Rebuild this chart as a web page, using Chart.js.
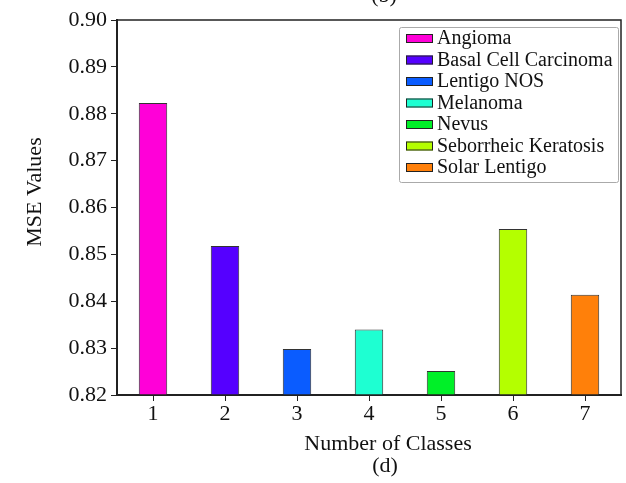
<!DOCTYPE html>
<html>
<head>
<meta charset="utf-8">
<script src="https://cdn.jsdelivr.net/npm/chart.js@4.4.0/dist/chart.umd.min.js"></script>
<style>
  html, body { margin: 0; padding: 0; background: #fff; }
  #wrap { width: 626px; height: 483px; }
</style>
</head>
<body>
<div id="wrap"><canvas id="mseChart" width="626" height="483"></canvas></div>
<script>
// --- Data ---
const classNumbers = ['1', '2', '3', '4', '5', '6', '7'];
const classNames = ['Angioma', 'Basal Cell Carcinoma', 'Lentigo NOS', 'Melanoma', 'Nevus', 'Seborrheic Keratosis', 'Solar Lentigo'];
const mseValues = [0.8823, 0.8518, 0.8298, 0.8340, 0.8251, 0.8554, 0.8414];
const barColors = ['#ff00d8', '#5500ff', '#0a5cff', '#1effd2', '#00f028', '#b4ff00', '#ff800a'];
const yTicks = [0.82, 0.83, 0.84, 0.85, 0.86, 0.87, 0.88, 0.89, 0.90];

const serif = '"Liberation Serif", "DejaVu Serif", serif';

// frame, texts and boxed legend
const decorations = {
    id: 'decorations',
    afterDraw(chart) {
        const { ctx, chartArea } = chart;
        ctx.save();

        // plot frame
        ctx.strokeStyle = '#222';
        ctx.lineWidth = 1.5;
        ctx.strokeRect(chartArea.left, chartArea.top, chartArea.right - chartArea.left, chartArea.bottom - chartArea.top);

        // axis titles and panel labels
        ctx.fillStyle = '#111';
        ctx.font = '22px ' + serif;
        ctx.textAlign = 'center';
        ctx.textBaseline = 'middle';
        ctx.fillText('Number of Classes', 388, 444);
        ctx.fillText('(d)', 385, 466);
        ctx.fillText('(b)', 384, -4);

        ctx.save();
        ctx.translate(35, 192);
        ctx.rotate(-Math.PI / 2);
        ctx.fillText('MSE Values', 0, 0);
        ctx.restore();

        // legend box
        const lx = 399, ly = 27, lw = 219, lh = 155;
        ctx.strokeStyle = '#aaa';
        ctx.lineWidth = 1;
        ctx.beginPath();
        ctx.roundRect(lx + 0.5, ly + 0.5, lw, lh, 2);
        ctx.stroke();

        ctx.font = '20px ' + serif;
        ctx.textAlign = 'left';
        classNames.forEach((name, i) => {
            const cy = 38 + i * 21.5;
            ctx.fillStyle = barColors[i];
            ctx.fillRect(406, cy - 4, 27, 9);
            ctx.strokeStyle = '#222';
            ctx.lineWidth = 1;
            ctx.strokeRect(406.5, cy - 3.5, 26, 8);
            ctx.fillStyle = '#111';
            ctx.fillText(name, 437, cy + 1);
        });

        ctx.restore();
    }
};

const ctx = document.getElementById('mseChart').getContext('2d');
new Chart(ctx, {
    type: 'bar',
    data: {
        labels: classNumbers,
        datasets: [{
            label: 'MSE',
            data: mseValues,
            backgroundColor: barColors,
            borderColor: '#333',
            borderWidth: 1,
            barPercentage: 0.395,
            categoryPercentage: 1.0
        }]
    },
    options: {
        responsive: false,
        animation: false,
        layout: { padding: { top: 20, right: 5, left: 0, bottom: 0 } },
        plugins: {
            legend: { display: false },
            tooltip: { enabled: false }
        },
        scales: {
            x: {
                grid: { offset: false, drawOnChartArea: false, drawTicks: true, tickLength: 6, color: '#222' },
                border: { color: '#222', width: 2 },
                ticks: { color: '#111', font: { family: serif, size: 22 }, padding: 0 },
                afterFit(scale) { scale.height = 88; }
            },
            y: {
                min: 0.82,
                max: 0.90,
                afterBuildTicks(scale) { scale.ticks = yTicks.map(v => ({ value: v })); },
                grid: { drawOnChartArea: false, drawTicks: true, tickLength: 6, color: '#222' },
                border: { color: '#222', width: 2 },
                ticks: {
                    color: '#111',
                    font: { family: serif, size: 22 },
                    padding: 4,
                    callback: v => Number(v).toFixed(2)
                },
                afterFit(scale) { scale.width = 117; }
            }
        }
    },
    plugins: [decorations]
});
</script>
</body>
</html>
